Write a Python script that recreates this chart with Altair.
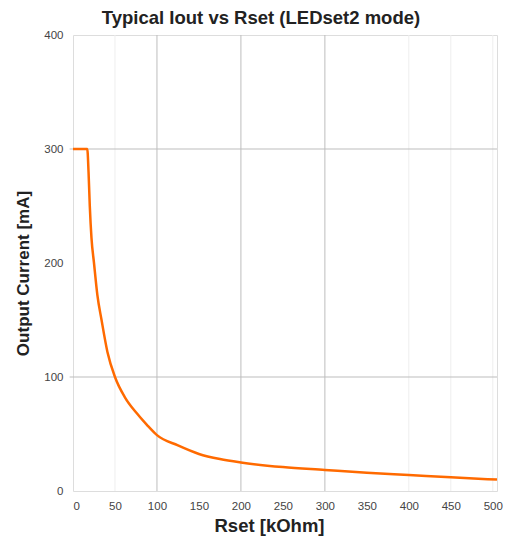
import altair as alt
import pandas as pd

# Curve: Rset [kOhm] vs Output Current [mA]
rset = [0, 17, 18.5, 20, 22, 25, 29, 34, 41, 50, 62, 75, 88, 100, 125, 150, 175, 200, 250, 300, 350, 400, 450, 505]
iout = [300, 300, 280, 250, 222, 200, 172, 150, 122, 100, 82, 69, 58, 49, 40, 32.5, 28, 25, 21, 18.5, 16, 14, 12, 10]

grid_x_major = [100, 200, 300]
grid_x_minor = [50, 400, 450, 500]
grid_y = [100, 300]

x_ticks = [0, 50, 100, 150, 200, 250, 300, 350, 400, 450, 500]
y_ticks = [0, 100, 200, 300, 400]

df = pd.DataFrame({"Rset": rset, "Iout": iout})
gxmaj = pd.DataFrame({"x": grid_x_major})
gxmin = pd.DataFrame({"x": grid_x_minor})
gy = pd.DataFrame({"y": grid_y, "x0": [-4] * len(grid_y), "x1": [505] * len(grid_y)})

FONT = "Liberation Sans"
xscale = alt.Scale(domain=[0, 505], nice=False)
yscale = alt.Scale(domain=[0, 400], nice=False)

minor = alt.Chart(gxmin).mark_rule(color="#eeeeee", strokeWidth=1).encode(
    x=alt.X("x:Q", scale=xscale)
)
major = alt.Chart(gxmaj).mark_rule(color="#bdbdbd", strokeWidth=1).encode(
    x=alt.X("x:Q", scale=xscale)
)
hgrid = alt.Chart(gy).mark_rule(color="#bdbdbd", strokeWidth=1).encode(
    y=alt.Y("y:Q", scale=yscale),
    x=alt.X("x0:Q", scale=xscale),
    x2="x1:Q",
)

line = alt.Chart(df).mark_line(color="#ff6a00", strokeWidth=2.5, interpolate="monotone").encode(
    x=alt.X(
        "Rset:Q",
        scale=xscale,
        title="Rset [kOhm]",
        axis=alt.Axis(
            values=x_ticks, grid=False, domain=False, ticks=False,
            labelFont=FONT, labelFontSize=11.5, labelColor="#444444", labelPadding=9,
            titleFont=FONT, titleFontSize=18.5, titleFontWeight="bold", titleColor="#222222",
            titleX=196, titleY=40, titleBaseline="alphabetic",
        ),
    ),
    y=alt.Y(
        "Iout:Q",
        scale=yscale,
        title="Output Current [mA]",
        axis=alt.Axis(
            values=y_ticks, grid=False, domain=False, ticks=False,
            labelFont=FONT, labelFontSize=11.5, labelColor="#444444", labelPadding=10,
            titleFont=FONT, titleFontSize=17, titleFontWeight="bold", titleColor="#222222",
            titleX=-41, titleY=238,
        ),
    ),
)

chart = alt.layer(minor, major, hgrid, line).properties(
    width=424,
    height=456,
    title=alt.TitleParams(
        "Typical Iout vs Rset (LEDset2 mode)",
        font=FONT, fontSize=18.5, fontWeight="bold", color="#222222",
        anchor="middle", dx=-24, offset=2,
    ),
    autosize=alt.AutoSizeParams(type="none"),
    padding={"left": 65, "top": 27, "right": 15, "bottom": 55},
).configure_view(stroke=None).configure(background="white")

chart.save("out.html", embed_options={"renderer": "svg", "actions": False})
